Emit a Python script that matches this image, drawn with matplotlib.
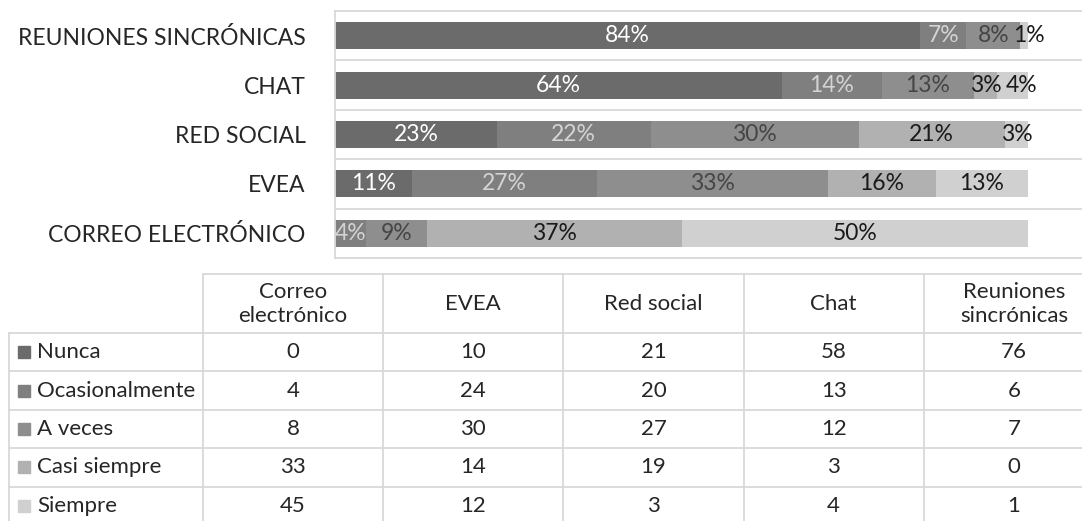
import numpy as np
import matplotlib
matplotlib.use("Agg")
import matplotlib.pyplot as plt
from matplotlib.patches import Rectangle

plt.rcParams['font.family'] = ['Lato', 'DejaVu Sans']

# data (counts from the table, chart shows row shares)
canales = ["Correo electrónico", "EVEA", "Red social", "Chat", "Reuniones sincrónicas"]
canales_eje = ["CORREO ELECTRÓNICO", "EVEA", "RED SOCIAL", "CHAT", "REUNIONES SINCRÓNICAS"]
encabezados = ["Correo\nelectrónico", "EVEA", "Red social", "Chat", "Reuniones\nsincrónicas"]
frecuencias = ["Nunca", "Ocasionalmente", "A veces", "Casi siempre", "Siempre"]
nunca = [0, 10, 21, 58, 76]
ocasionalmente = [4, 24, 20, 13, 6]
a_veces = [8, 30, 27, 12, 7]
casi_siempre = [33, 14, 19, 3, 0]
siempre = [45, 12, 3, 4, 1]

colores = ["#6b6b6b", "#7f7f7f", "#8e8e8e", "#b1b1b1", "#d0d0d0"]
col_etiqueta = ["white", "#d4d4d4", "#454545", "#1a1a1a", "#1a1a1a"]
GRIS = "#d9d9d9"
TXT = "#262626"
FS = 16.5
FS_TAB = 16

W, H = 1082, 521
fig = plt.figure(figsize=(W / 100, H / 100), dpi=100)

series = np.array([nunca, ocasionalmente, a_veces, casi_siempre, siempre], dtype=float)
shares = series / series.sum(axis=0)

# stacked bars
ax = fig.add_axes([335 / W, 1 - 258 / H, (1104 - 335) / W, (258 - 11) / H])
y = np.arange(len(canales))
left = np.zeros(len(canales))
etiquetas = [[] for _ in canales]
for i, nombre in enumerate(frecuencias):
    ax.barh(y, shares[i], left=left, height=0.55, color=colores[i], label=nombre)
    for j in range(len(canales)):
        v = shares[i, j]
        if v > 0:
            t = ax.text(left[j] + v / 2, y[j], f"{round(v * 100)}%", ha="center", va="center",
                        fontsize=FS, color=col_etiqueta[i])
            etiquetas[j].append(t)
    left += shares[i]

ax.set_xlim(0, 769 / 693)
ax.set_ylim(-0.5, len(canales) - 0.5)
ax.set_xticks([])
ax.set_yticks(y)
ax.set_yticklabels(canales_eje, fontsize=FS, color=TXT)
ax.tick_params(axis="y", length=0, pad=21)
for k in range(len(canales) + 1):
    ax.axhline(k - 0.5, color=GRIS, lw=1.3, zorder=0)
for s in ax.spines.values():
    s.set_color(GRIS)
    s.set_linewidth(1.3)

# push small labels apart so they don't overlap (like Excel does)
r = fig.canvas.get_renderer()
inv = ax.transData.inverted()
for fila in etiquetas:
    prev_right = None
    for t in fila:
        bb = t.get_window_extent(r)
        if prev_right is not None and bb.x0 < prev_right + 4:
            dx = prev_right + 4 - bb.x0
            cx = (bb.x0 + bb.x1) / 2 + dx
            t.set_x(inv.transform((cx, 0))[0])
            bb = t.get_window_extent(r)
        prev_right = bb.x1

# data table
tb = fig.add_axes([0, 0, 1, 1])
tb.set_xlim(0, W)
tb.set_ylim(H, 0)
tb.axis("off")

x0, x1, cw = 9, 203, 180.2
y0, y1, rh = 274, 333, 38.4
xs = [x1 + k * cw for k in range(len(canales) + 1)]
ys = [y1 + k * rh for k in range(len(frecuencias) + 1)]

tb.plot([x1, xs[-1]], [y0, y0], color=GRIS, lw=1.3)
for xv in xs:
    tb.plot([xv, xv], [y0, ys[-1]], color=GRIS, lw=1.3)
tb.plot([x0, x0], [y1, ys[-1]], color=GRIS, lw=1.3)
for yv in ys:
    tb.plot([x0, xs[-1]], [yv, yv], color=GRIS, lw=1.3)

for j, h in enumerate(encabezados):
    tb.text((xs[j] + xs[j + 1]) / 2, (y0 + y1) / 2 + 1, h, ha="center", va="center",
            fontsize=FS_TAB, color=TXT, linespacing=1.25)

for i, nombre in enumerate(frecuencias):
    yc = (ys[i] + ys[i + 1]) / 2
    tb.add_patch(Rectangle((18, yc - 6), 12, 12, color=colores[i]))
    tb.text(37, yc, nombre, ha="left", va="center", fontsize=FS_TAB, color=TXT)
    for j in range(len(canales)):
        tb.text((xs[j] + xs[j + 1]) / 2, yc, str(int(series[i, j])), ha="center", va="center",
                fontsize=FS_TAB, color=TXT)

fig.savefig("out.png", dpi=100)
